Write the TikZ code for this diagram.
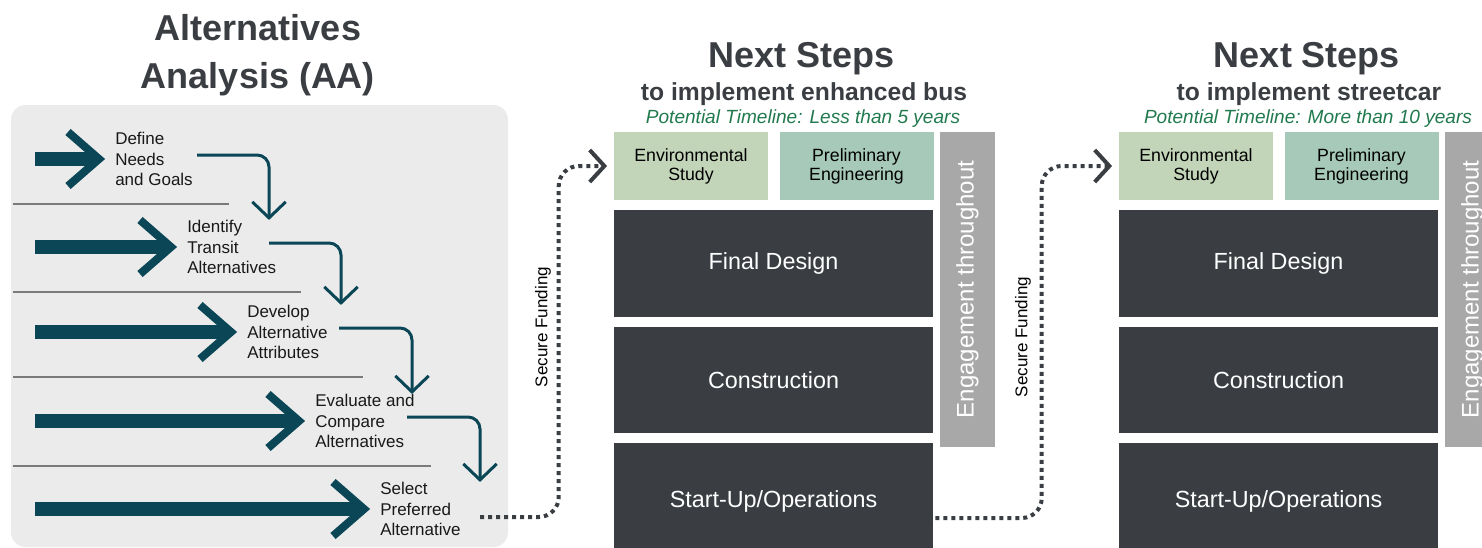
\documentclass[tikz,border=0pt]{standalone}
\usepackage{fontspec}
\setmainfont{Liberation Sans}
\usepackage{xcolor}
\usetikzlibrary{positioning,arrows.meta,calc}

\definecolor{aaTeal}{HTML}{0B4656}
\definecolor{panelGrey}{HTML}{EBEBEB}
\definecolor{boxDark}{HTML}{3A3E43}
\definecolor{titleGrey}{HTML}{3A3D42}
\definecolor{envGreen}{HTML}{C3D5B9}
\definecolor{prelGreen}{HTML}{A7C9B9}
\definecolor{engGrey}{HTML}{A8A8A8}
\definecolor{lineGrey}{HTML}{7A7A7A}
\definecolor{tlGreen}{HTML}{217A4E}

\begin{document}
\begin{tikzpicture}[
    x=0.75pt, y=-0.75pt,
    title/.style={inner sep=0pt, text=titleGrey, font=\bfseries\fontsize{27}{32}\selectfont},
    subtitle/.style={inner sep=0pt, text=titleGrey, font=\bfseries\fontsize{18.5}{22}\selectfont},
    timeline/.style={inner sep=0pt, text=tlGreen, font=\itshape\fontsize{14.3}{17}\selectfont},
    lbl/.style={anchor=west, align=left, inner sep=0pt, text=black!90, font=\fontsize{12.75}{15.4}\selectfont},
    shaft/.style={line width=10.5pt, aaTeal},
    barb/.style={line width=6pt, aaTeal, miter limit=10},
    sepline/.style={line width=1pt, lineGrey},
    bent/.style={line width=2.25pt, aaTeal, rounded corners=9pt, -{Straight Barb[length=12pt,width=25pt,line width=2.25pt]}},
    fund/.style={line width=3pt, boxDark, dash pattern=on 3pt off 3pt, rounded corners=15pt, shorten >=5pt, -{Straight Barb[length=11pt,width=24pt,line width=3pt]}},
    fundtxt/.style={rotate=90, inner sep=0pt, font=\fontsize{12.75}{15}\selectfont},
    greenbox/.style={minimum width=115.5pt, minimum height=51pt, align=center, inner sep=0pt, font=\fontsize{13.3}{14.2}\selectfont},
    engbox/.style={rotate=90, fill=engGrey, text=white, minimum width=236.25pt, minimum height=41.25pt, inner sep=0pt, font=\fontsize{18}{20}\selectfont},
    darkbox/.style={fill=boxDark, text=white, minimum width=239.25pt, inner sep=0pt, font=\fontsize{17.5}{20}\selectfont}
  ]
  \useasboundingbox (0,0) rectangle (1482,547);
  \clip (0,0) rectangle (1482,547);

  % alternatives analysis
  \fill[panelGrey, rounded corners=11pt] (11,105) rectangle (508,547);
  \node[title, anchor=base] (aa1) at (258,40) {Alternatives};
  \node[title, anchor=base] (aa2) at (258,88) {Analysis (AA)};

  \foreach \i/\y/\lx/\txt in {1/159/115/{Define\\Needs\\and Goals}, 2/247/187/{Identify\\Transit\\Alternatives}, 3/332/247/{Develop\\Alternative\\Attributes}, 4/421/315/{Evaluate and\\Compare\\Alternatives}, 5/509/380/{Select\\Preferred\\Alternative}}{
    \node[lbl] (l\i) at (\lx,\y) {\txt};
    \draw[shaft] (35,\y) -- ($(l\i.west)+(-20,0)$);
    \draw[barb] ($(l\i.west)+(-47,-27)$) -- ($(l\i.west)+(-16,0)$) -- ($(l\i.west)+(-47,27)$);
  }
  \foreach \y/\xe in {204/229, 292/301, 377/363, 466/431}
    \draw[sepline] (13,\y) -- (\xe,\y);
  \foreach \i/\j/\sx/\vx in {1/2/82/154, 2/3/82/154, 3/4/92/165, 4/5/92/165}{
    \coordinate (v\i) at ($(l\i.west)+(\vx,-4)$);
    \draw[bent] ($(l\i.west)+(\sx,-4)$) -| (v\i |- l\j.north);
  }

  % next steps
  \foreach \c/\dx/\what/\when in {1/0/{enhanced bus}/{Less than 5 years}, 2/505/{streetcar}/{More than 10 years}}{
    \node[title, anchor=base] (ns\c) at ({802+\dx},67) {Next Steps};
    \node[subtitle, anchor=base] (to\c) at ({804+\dx},100) {to implement \what};
    \node[timeline, anchor=base] (tl\c) at ({803+\dx},123) {Potential Timeline: \when};
    \node[greenbox, fill=envGreen] (env\c) at ({691+\dx},166) {Environmental\\Study};
    \node[greenbox, fill=prelGreen] (pre\c) at ({856.5+\dx},166) {Preliminary\\Engineering};
    \node[engbox] (eng\c) at ({967.5+\dx},289.5) {Engagement throughout};
    \node[darkbox, minimum height=80.25pt] (fd\c) at ({773.5+\dx},263.5) {Final Design};
    \node[darkbox, minimum height=79.5pt] (con\c) at ({773.5+\dx},380) {Construction};
    \node[darkbox, minimum height=87.75pt] (su\c) at ({773.5+\dx},501.5) {Start-Up/Operations};
  }

  % funding links
  \coordinate (sf1) at (480,517);
  \draw[fund] (sf1) -| ($(env1.west)+(-55,0)$) -- (env1.west);
  \node[fundtxt] (fl1) at (543,327) {Secure Funding};
  \draw[fund] ($(su1.east)+(2,16.5)$) -| ($(env2.west)+(-77,0)$) -- (env2.west);
  \node[fundtxt] (fl2) at (1023,337) {Secure Funding};
\end{tikzpicture}
\end{document}
